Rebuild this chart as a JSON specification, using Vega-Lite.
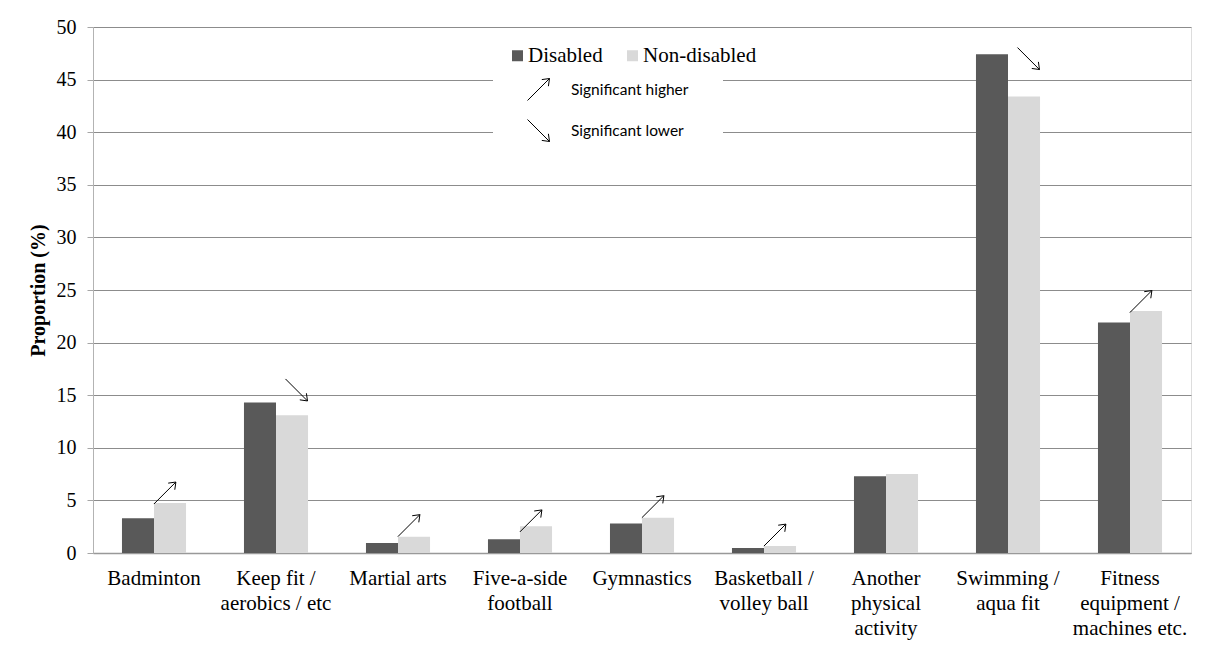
{
  "$schema": "https://vega.github.io/schema/vega-lite/v6.json",
  "width": 1098,
  "height": 526,
  "autosize": {"type": "none"},
  "padding": {"left": 93, "top": 27, "right": 17, "bottom": 92},
  "background": "white",
  "datasets": {
    "bars": [
      {"category": "Badminton", "group": "Disabled", "value": 3.3},
      {"category": "Badminton", "group": "Non-disabled", "value": 4.75},
      {"category": "Keep fit / aerobics / etc", "group": "Disabled", "value": 14.3},
      {"category": "Keep fit / aerobics / etc", "group": "Non-disabled", "value": 13.1},
      {"category": "Martial arts", "group": "Disabled", "value": 0.95},
      {"category": "Martial arts", "group": "Non-disabled", "value": 1.55},
      {"category": "Five-a-side football", "group": "Disabled", "value": 1.3},
      {"category": "Five-a-side football", "group": "Non-disabled", "value": 2.55},
      {"category": "Gymnastics", "group": "Disabled", "value": 2.8},
      {"category": "Gymnastics", "group": "Non-disabled", "value": 3.35},
      {"category": "Basketball / volley ball", "group": "Disabled", "value": 0.47},
      {"category": "Basketball / volley ball", "group": "Non-disabled", "value": 0.66},
      {"category": "Another physical activity", "group": "Disabled", "value": 7.3},
      {"category": "Another physical activity", "group": "Non-disabled", "value": 7.5},
      {"category": "Swimming / aqua fit", "group": "Disabled", "value": 47.4},
      {"category": "Swimming / aqua fit", "group": "Non-disabled", "value": 43.4},
      {"category": "Fitness equipment / machines etc.", "group": "Disabled", "value": 21.9},
      {"category": "Fitness equipment / machines etc.", "group": "Non-disabled", "value": 23.0}
    ],
    "arrows": [
      {"category": "Badminton", "sig": "Significant higher", "at": 5.7},
      {"category": "Keep fit / aerobics / etc", "sig": "Significant lower", "at": 15.5},
      {"category": "Martial arts", "sig": "Significant higher", "at": 2.6},
      {"category": "Five-a-side football", "sig": "Significant higher", "at": 3.05},
      {"category": "Gymnastics", "sig": "Significant higher", "at": 4.4},
      {"category": "Basketball / volley ball", "sig": "Significant higher", "at": 1.7},
      {"category": "Swimming / aqua fit", "sig": "Significant lower", "at": 47.0},
      {"category": "Fitness equipment / machines etc.", "sig": "Significant higher", "at": 23.9}
    ]
  },
  "layer": [
    {
      "data": {"name": "bars"},
      "mark": {"type": "bar"},
      "encoding": {
        "x": {
          "field": "category",
          "type": "nominal",
          "sort": null,
          "scale": {
            "domain": ["Badminton", "Keep fit / aerobics / etc", "Martial arts", "Five-a-side football", "Gymnastics", "Basketball / volley ball", "Another physical activity", "Swimming / aqua fit", "Fitness equipment / machines etc."],
            "paddingInner": 0.475,
            "paddingOuter": 0.2375
          },
          "axis": {
            "title": null,
            "labelAngle": 0,
            "ticks": false,
            "domainColor": "#999999",
            "domainWidth": 1.5,
            "labelFont": "Liberation Serif",
            "labelFontSize": 21,
            "labelColor": "#000000",
            "labelPadding": 14,
            "labelLineHeight": 25,
            "labelLimit": 200,
            "labelExpr": "datum.label == 'Keep fit / aerobics / etc' ? ['Keep fit /', 'aerobics / etc'] : datum.label == 'Five-a-side football' ? ['Five-a-side', 'football'] : datum.label == 'Basketball / volley ball' ? ['Basketball /', 'volley ball'] : datum.label == 'Another physical activity' ? ['Another', 'physical', 'activity'] : datum.label == 'Swimming / aqua fit' ? ['Swimming /', 'aqua fit'] : datum.label == 'Fitness equipment / machines etc.' ? ['Fitness', 'equipment /', 'machines etc.'] : datum.label"
          }
        },
        "xOffset": {
          "field": "group",
          "type": "nominal",
          "scale": {"domain": ["Disabled", "Non-disabled"], "paddingInner": 0, "paddingOuter": 0}
        },
        "y": {
          "field": "value",
          "type": "quantitative",
          "scale": {"domain": [0, 50], "nice": false},
          "axis": {
            "title": "Proportion (%)",
            "titleFont": "Liberation Serif",
            "titleFontSize": 20,
            "titleFontWeight": "bold",
            "titleColor": "#000000",
            "titlePadding": 8,
            "values": [0, 5, 10, 15, 20, 25, 30, 35, 40, 45, 50],
            "labelFont": "Liberation Serif",
            "labelFontSize": 20,
            "labelColor": "#000000",
            "labelPadding": 11,
            "tickSize": 6,
            "tickColor": "#a6a6a6",
            "domainColor": "#b3b3b3",
            "grid": true,
            "gridColor": "#8c8c8c",
            "gridWidth": 1
          }
        },
        "color": {
          "field": "group",
          "type": "nominal",
          "scale": {"domain": ["Disabled", "Non-disabled"], "range": ["#595959", "#d9d9d9"]},
          "legend": {
            "title": null,
            "orient": "none",
            "legendX": 414,
            "legendY": 18,
            "direction": "horizontal",
            "symbolType": "square",
            "symbolSize": 121,
            "symbolStrokeWidth": 0,
            "labelFont": "Liberation Serif",
            "labelFontSize": 21,
            "labelColor": "#000000",
            "labelOffset": 0,
            "columnPadding": 19,
            "padding": 0,
            "fillColor": "white",
            "zindex": 3
          }
        }
      }
    },
    {
      "data": {"name": "arrows"},
      "transform": [{"filter": "datum.sig == 'Significant higher'"}],
      "mark": {"type": "point", "filled": false, "stroke": "#000000", "strokeWidth": 1, "opacity": 1, "size": 484},
      "encoding": {
        "x": {"field": "category", "type": "nominal", "sort": null, "bandPosition": 0.67},
        "y": {"field": "at", "type": "quantitative"},
        "shape": {
          "field": "sig",
          "type": "nominal",
          "scale": {
            "domain": ["Significant higher", "Significant lower"],
            "range": ["M -1 1 L 1 -1 M 0.3 -0.9 L 1 -1 L 0.9 -0.3", "M -1 -1 L 1 1 M 0.3 0.9 L 1 1 L 0.9 0.3"]
          },
          "legend": {
            "title": null,
            "orient": "none",
            "legendX": 400,
            "legendY": 17,
            "direction": "vertical",
            "symbolSize": 484,
            "symbolStrokeColor": "#000000",
            "symbolFillColor": "transparent",
            "symbolStrokeWidth": 1,
            "labelFont": "Lato",
            "labelFontSize": 15.5,
            "labelColor": "#000000",
            "labelOffset": 21,
            "rowPadding": 14,
            "padding": 34,
            "fillColor": "white",
            "zindex": 1,
            "encode": {"labels": {"update": {"dy": {"value": 3.5}}}}
          }
        }
      }
    },
    {
      "data": {"name": "arrows"},
      "transform": [{"filter": "datum.sig == 'Significant lower'"}],
      "mark": {"type": "point", "filled": false, "stroke": "#000000", "strokeWidth": 1, "opacity": 1, "size": 484},
      "encoding": {
        "x": {"field": "category", "type": "nominal", "sort": null, "bandPosition": 0.82},
        "y": {"field": "at", "type": "quantitative"},
        "shape": {"field": "sig", "type": "nominal"}
      }
    }
  ]
}
